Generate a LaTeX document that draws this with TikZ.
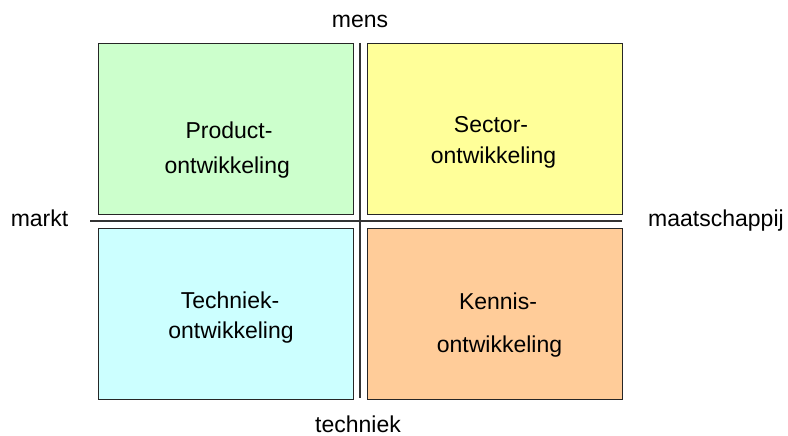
\documentclass[tikz,border=0pt]{standalone}
\usepackage{fontspec}
\setmainfont{Liberation Sans}
\definecolor{qgreen}{HTML}{CCFFCC}
\definecolor{qyellow}{HTML}{FFFF99}
\definecolor{qcyan}{HTML}{CCFFFF}
\definecolor{qorange}{HTML}{FFCC99}
\definecolor{axisgray}{HTML}{333333}
\begin{document}
\begin{tikzpicture}[x=1bp,y=-1bp,
  quad/.style={draw=black!85, line width=1bp, inner sep=0pt, anchor=north west,
    minimum width=255bp, minimum height=171bp},
  txt/.style={anchor=base, inner sep=0pt, font=\fontsize{23bp}{27bp}\selectfont},
  axisline/.style={draw=axisgray, line width=2bp}]
\useasboundingbox (0,0) rectangle (788,436);
% quadrants
\node[quad, fill=qgreen]  (pq) at (98,43) {};
\node[quad, fill=qyellow] (sq) at (367,43) {};
\node[quad, fill=qcyan]   (tq) at (98,228) {};
\node[quad, fill=qorange] (kq) at (367,228) {};
% axes
\coordinate (atop) at (360,43);
\coordinate (abot) at (360,398);
\coordinate (aleft) at (90,221);
\coordinate (aright) at (622,221);
\draw[axisline] (atop) -- (abot);
\draw[axisline] (aleft) -- (aright);
% axis labels
\node[txt] (mens) at (360,28) {mens};
\node[txt] (markt) at (39.5,227) {markt};
\node[txt] (maat) at (716,227) {maatschappij};
\node[txt, text depth=0pt] (tech) at (358,432) {techniek};
% quadrant texts
\node[txt] (p1) at (229,139) {Product-};
\node[txt] (p2) at (227.3,174) {ontwikkeling};
\node[txt] (s1) at (491,133) {Sector-};
\node[txt] (s2) at (493.5,164) {ontwikkeling};
\node[txt] (t1) at (230,309) {Techniek-};
\node[txt] (t2) at (231,339) {ontwikkeling};
\node[txt] (k1) at (498,310) {Kennis-};
\node[txt] (k2) at (499.5,353) {ontwikkeling};
\end{tikzpicture}
\end{document}
